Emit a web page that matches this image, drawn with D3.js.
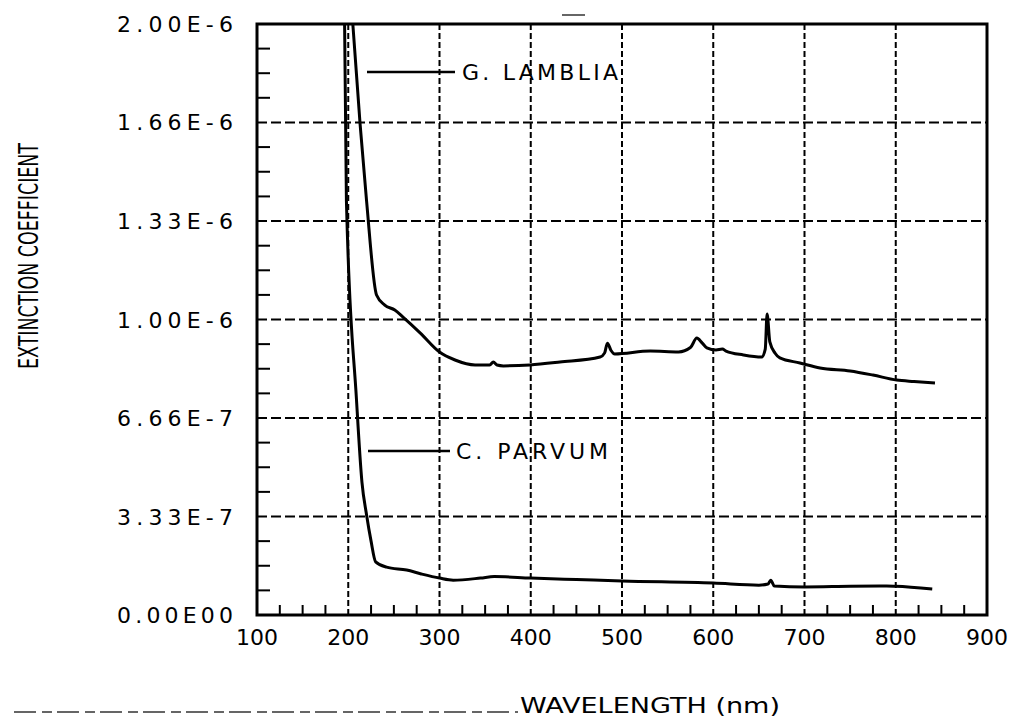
<!DOCTYPE html>
<html>
<head>
<meta charset="utf-8">
<script src="https://cdn.jsdelivr.net/npm/d3@7"></script>
<style>
  html, body { margin: 0; padding: 0; background: #fff; }
  svg { display: block; font-family: "DejaVu Sans", sans-serif; }
</style>
</head>
<body>
<div id="chart"></div>
<script>
// wavelength (nm) and extinction coefficient
const lambliaWl  = [205, 213, 220, 231, 240, 251, 260, 279, 300, 317, 339, 355, 359, 363, 370, 399, 432, 476, 481, 484, 488, 492, 531, 562, 575, 582, 588, 593, 603, 610, 614, 633, 653, 657, 659, 662, 668, 673, 695, 717, 750, 775, 801, 820, 843];
const lambliaExt = [2.0e-6, 1.66e-6, 1.404e-6, 1.083e-6, 1.049e-6, 1.032e-6, 1.008e-6, 0.954e-6, 0.89e-6, 0.863e-6, 0.846e-6, 0.846e-6, 0.856e-6, 0.846e-6, 0.843e-6, 0.846e-6, 0.856e-6, 0.873e-6, 0.887e-6, 0.92e-6, 0.895e-6, 0.883e-6, 0.893e-6, 0.89e-6, 0.905e-6, 0.937e-6, 0.92e-6, 0.904e-6, 0.897e-6, 0.9e-6, 0.893e-6, 0.88e-6, 0.873e-6, 0.9e-6, 1.019e-6, 0.924e-6, 0.885e-6, 0.87e-6, 0.853e-6, 0.836e-6, 0.826e-6, 0.812e-6, 0.795e-6, 0.79e-6, 0.785e-6];

const parvumWl  = [196, 198, 209, 215, 220, 225, 230, 242, 264, 280, 300, 315, 345, 360, 400, 450, 500, 600, 650, 660, 663, 667, 700, 750, 790, 800, 840];
const parvumExt = [2.0e-6, 1.4e-6, 0.73e-6, 0.45e-6, 0.34e-6, 0.25e-6, 0.18e-6, 0.162e-6, 0.152e-6, 0.139e-6, 0.125e-6, 0.118e-6, 0.125e-6, 0.13e-6, 0.125e-6, 0.12e-6, 0.115e-6, 0.108e-6, 0.101e-6, 0.105e-6, 0.118e-6, 0.098e-6, 0.095e-6, 0.097e-6, 0.098e-6, 0.097e-6, 0.088e-6];

const xTicks = [100, 200, 300, 400, 500, 600, 700, 800, 900];
const yTicks = [0, 3.333e-7, 6.667e-7, 1.0e-6, 1.333e-6, 1.667e-6, 2.0e-6];
const yTickLabels = ["0.00E00", "3.33E-7", "6.66E-7", "1.00E-6", "1.33E-6", "1.66E-6", "2.00E-6"];

const seriesNames = ["G. LAMBLIA", "C. PARVUM"];

const width = 1016, height = 721;
const margin = {top: 24, right: 29, bottom: 106, left: 257};
const plotW = width - margin.left - margin.right;
const plotH = height - margin.top - margin.bottom;

const svg = d3.select("#chart").append("svg")
    .attr("width", width)
    .attr("height", height);

const g = svg.append("g")
    .attr("transform", `translate(${margin.left},${margin.top})`);

const x = d3.scaleLinear().domain([100, 900]).range([0, plotW]);
const y = d3.scaleLinear().domain([0, 2.0e-6]).range([plotH, 0]);

// dashed grid at major ticks
g.append("g").selectAll("line")
    .data(xTicks.slice(1, -1))
    .enter().append("line")
    .attr("x1", d => x(d)).attr("x2", d => x(d))
    .attr("y1", 0).attr("y2", plotH)
    .style("stroke", "#000")
    .style("stroke-width", 2)
    .style("stroke-dasharray", "6,3");

g.append("g").selectAll("line")
    .data(yTicks.slice(1, -1))
    .enter().append("line")
    .attr("x1", 0).attr("x2", plotW)
    .attr("y1", d => y(d)).attr("y2", d => y(d))
    .style("stroke", "#000")
    .style("stroke-width", 2)
    .style("stroke-dasharray", "10,4");

// minor ticks, inward, 3 between each pair of majors
const xMinor = [];
for (let i = 0; i < xTicks.length - 1; i++) {
    for (let k = 1; k <= 3; k++) xMinor.push(xTicks[i] + (xTicks[i + 1] - xTicks[i]) * k / 4);
}
const yMinor = [];
for (let i = 0; i < yTicks.length - 1; i++) {
    for (let k = 1; k <= 3; k++) yMinor.push(yTicks[i] + (yTicks[i + 1] - yTicks[i]) * k / 4);
}

g.append("g").selectAll("line")
    .data(xMinor)
    .enter().append("line")
    .attr("x1", d => x(d)).attr("x2", d => x(d))
    .attr("y1", plotH).attr("y2", plotH - 10)
    .style("stroke", "#000")
    .style("stroke-width", 2);

g.append("g").selectAll("line")
    .data(yMinor)
    .enter().append("line")
    .attr("x1", 0).attr("x2", 13)
    .attr("y1", d => y(d)).attr("y2", d => y(d))
    .style("stroke", "#000")
    .style("stroke-width", 2);

// frame
g.append("rect")
    .attr("x", 0).attr("y", 0)
    .attr("width", plotW).attr("height", plotH)
    .style("fill", "none")
    .style("stroke", "#000")
    .style("stroke-width", 3);

// tick labels
g.append("g").selectAll("text")
    .data(xTicks)
    .enter().append("text")
    .attr("x", d => x(d))
    .attr("y", plotH + 30)
    .attr("text-anchor", "middle")
    .style("font-size", "22px")
    .text(d => d);

g.append("g").selectAll("text")
    .data(yTicks)
    .enter().append("text")
    .attr("x", -140)
    .attr("y", d => y(d) + 8)
    .attr("textLength", 116)
    .attr("lengthAdjust", "spacing")
    .style("font-size", "22px")
    .text((d, i) => yTickLabels[i]);

// curves
svg.append("clipPath").attr("id", "plotclip")
    .append("rect").attr("width", plotW).attr("height", plotH);

const line = d3.line()
    .x(d => x(d[0]))
    .y(d => y(d[1]))
    .curve(d3.curveMonotoneX);

const curves = g.append("g").attr("clip-path", "url(#plotclip)");

[[lambliaWl, lambliaExt], [parvumWl, parvumExt]].forEach(([wl, ext]) => {
    curves.append("path")
        .datum(wl.map((w, i) => [w, ext[i]]))
        .attr("d", line)
        .style("fill", "none")
        .style("stroke", "#000")
        .style("stroke-width", 3)
        .style("stroke-linejoin", "round");
});

// series labels
const labelPos = [
    {x1: 367, x2: 455, y: 72, tx: 462, len: 156},
    {x1: 368, x2: 450, y: 451, tx: 456, len: 152}
];
seriesNames.forEach((name, i) => {
    const p = labelPos[i];
    svg.append("line")
        .attr("x1", p.x1).attr("x2", p.x2)
        .attr("y1", p.y).attr("y2", p.y)
        .style("stroke", "#000")
        .style("stroke-width", 2.5);
    svg.append("text")
        .attr("x", p.tx)
        .attr("y", p.y + 8)
        .attr("textLength", p.len)
        .attr("lengthAdjust", "spacing")
        .style("font-size", "22px")
        .text(name);
});

// axis titles
svg.append("text")
    .attr("transform", "translate(38,256) rotate(-90)")
    .attr("text-anchor", "middle")
    .attr("textLength", 226)
    .attr("lengthAdjust", "spacingAndGlyphs")
    .style("font-size", "27px")
    .text("EXTINCTION COEFFICIENT");

// scan artefacts
svg.append("line")
    .attr("x1", 14).attr("x2", 518)
    .attr("y1", 712).attr("y2", 712)
    .style("stroke", "#333")
    .style("stroke-width", 1.5)
    .style("stroke-dasharray", "22,6,10,5");

svg.append("line")
    .attr("x1", 562).attr("x2", 585)
    .attr("y1", 15).attr("y2", 15)
    .style("stroke", "#333")
    .style("stroke-width", 1.5);

svg.append("text")
    .attr("x", 520)
    .attr("y", 713)
    .attr("textLength", 260)
    .attr("lengthAdjust", "spacingAndGlyphs")
    .style("font-size", "22px")
    .text("WAVELENGTH (nm)");
</script>
</body>
</html>
